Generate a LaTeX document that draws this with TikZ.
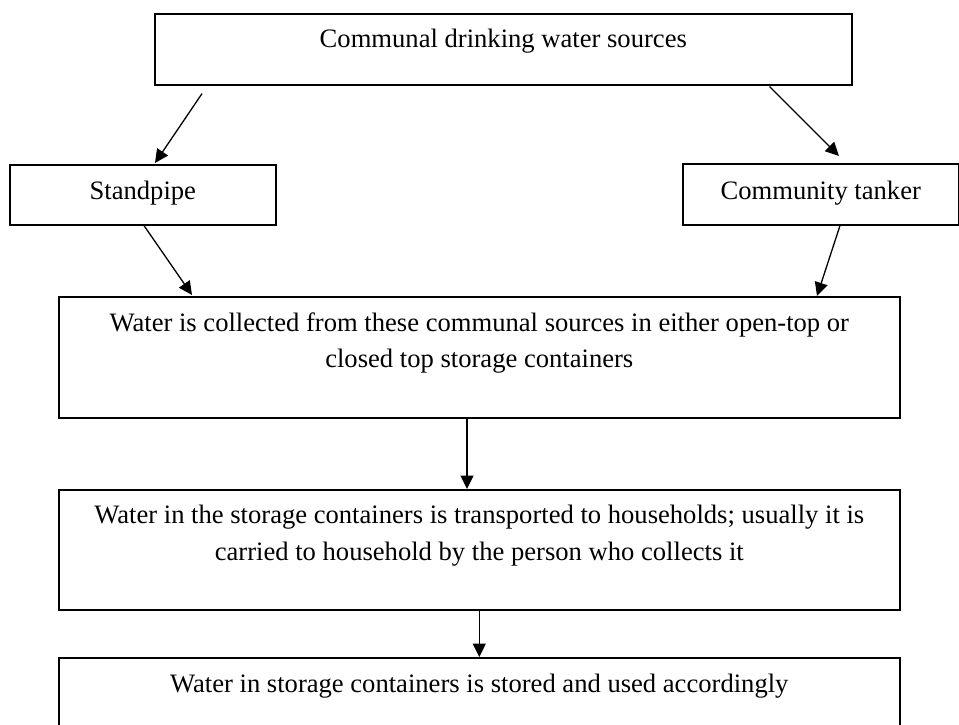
\documentclass[tikz,border=0pt]{standalone}
\usepackage{fontspec}
\setmainfont{Liberation Serif}
\usetikzlibrary{arrows.meta,calc}
\begin{document}
\begin{tikzpicture}[x=1pt,y=-1pt,
  box/.style={draw, line width=1.6pt, inner sep=0pt, anchor=north west},
  txt/.style={inner sep=0pt, anchor=base, font=\fontsize{26.6}{36.5}\selectfont},
  arr/.style={line width=1.3pt, -{Triangle[length=13.5pt,width=13pt]}}]
\useasboundingbox (0,0) rectangle (959,724);
\fill[white] (0,0) rectangle (959,724);
\clip (0,0) rectangle (959,724);

% boxes
\node[box, minimum width=697pt, minimum height=71pt] (top) at (154,13) {};
\node[box, minimum width=266pt, minimum height=60pt] (sp) at (9,164) {};
\node[box, minimum width=276pt, minimum height=61pt] (tk) at (682,163) {};
\node[box, minimum width=841pt, minimum height=121pt] (b1) at (58,296) {};
\node[box, minimum width=841pt, minimum height=120pt] (b2) at (58,489) {};
\node[box, minimum width=841pt, minimum height=120pt] (b3) at (58,657) {};

% texts
\node[txt] (ttop) at ($(top.north)+(0,34.5)$) {Communal drinking water sources};
\node[txt] (tsp) at ($(sp.north)+(0,35)$) {Standpipe};
\node[txt] (ttk) at ($(tk.north)+(0,36)$) {Community tanker};
\node[txt] (tb1) at ($(b1.north)+(0,35)$) {\parbox[t]{830pt}{\centering Water is collected from these communal sources in either open-top or\\ closed top storage containers}};
\node[txt] (tb2) at ($(b2.north)+(0,34.5)$) {\parbox[t]{830pt}{\centering Water in the storage containers is transported to households; usually it is\\ carried to household by the person who collects it}};
\node[txt] (tb3) at ($(b3.north)+(0,35)$) {Water in storage containers is stored and used accordingly};

% connectors
\draw[arr] ($(top.south west)+(48,8)$) -- ($(sp.north west)+(146,-1)$);
\draw[arr] ($(top.south east)+(-83,1)$) -- ($(tk.north west)+(157,-7)$);
\draw[arr] ($(sp.south west)+(135,0)$) -- ($(b1.north west)+(134,-1)$);
\draw[arr] ($(tk.south west)+(158,0)$) -- ($(b1.north west)+(759,0)$);
\draw[arr] ($(b1.south west)+(409,0)$) -- ($(b2.north west)+(409,0)$);
\draw[arr] (b2.south) -- (b3.north);
\end{tikzpicture}
\end{document}
